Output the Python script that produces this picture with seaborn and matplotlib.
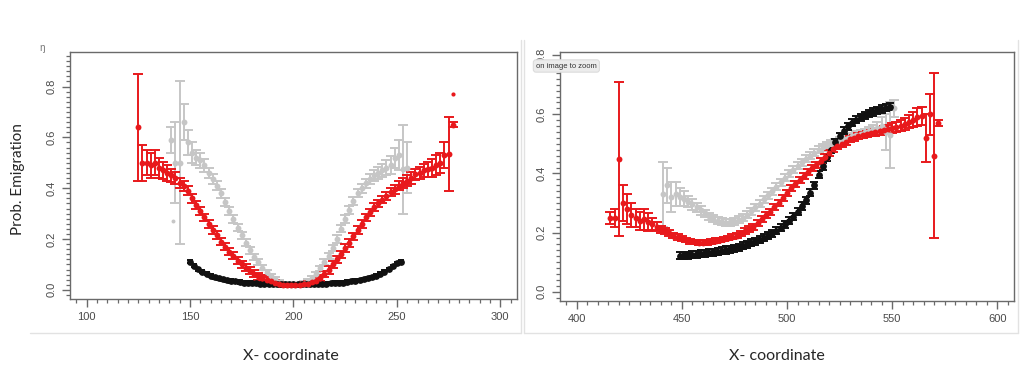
import matplotlib.pyplot as plt
import numpy as np
import seaborn as sns
from matplotlib.lines import Line2D
from matplotlib.ticker import MultipleLocator

# ---- left panel data (x 100-300) ----
left_red_x = np.arange(125, 279, 2)
left_red_y = [0.64, 0.50, 0.50, 0.49, 0.50, 0.48, 0.47, 0.46, 0.45, 0.44,
              0.42, 0.41, 0.39, 0.36, 0.335, 0.31, 0.285, 0.26, 0.235, 0.215,
              0.19, 0.17, 0.15, 0.135, 0.115, 0.10, 0.087, 0.075, 0.064, 0.054,
              0.046, 0.039, 0.033, 0.028, 0.024, 0.021, 0.02, 0.019, 0.019, 0.02,
              0.022, 0.025, 0.03, 0.036, 0.048, 0.062, 0.078, 0.10, 0.12, 0.14,
              0.165, 0.185, 0.21, 0.235, 0.26, 0.285, 0.305, 0.325, 0.34, 0.355,
              0.37, 0.385, 0.395, 0.41, 0.42, 0.43, 0.44, 0.455, 0.46, 0.47,
              0.475, 0.48, 0.49, 0.50, 0.53, 0.535, 0.65]
left_red_err = [0.21, 0.07, 0.05, 0.05, 0.05, 0.04, 0.035, 0.03, 0.025, 0.025,
                0.02, 0.02, 0.018, 0.018, 0.016, 0.016, 0.015, 0.015, 0.015, 0.015,
                0.014, 0.014, 0.014, 0.014, 0.014, 0.014, 0.014, 0.014, 0.014, 0.014,
                0.012, 0.012, 0.01, 0.01, 0.008, 0.008, 0.006, 0.006, 0.006, 0.006,
                0.008, 0.008, 0.01, 0.01, 0.012, 0.012, 0.014, 0.014, 0.014, 0.014,
                0.015, 0.015, 0.015, 0.015, 0.015, 0.015, 0.015, 0.015, 0.015, 0.015,
                0.016, 0.016, 0.018, 0.018, 0.02, 0.02, 0.022, 0.022, 0.025, 0.025,
                0.03, 0.035, 0.04, 0.04, 0.05, 0.145, 0.01]
left_red_extra_x = [277]
left_red_extra_y = [0.77]

left_gray_x = np.arange(141, 257, 2)
left_gray_y = [0.59, 0.50, 0.50, 0.66, 0.58, 0.54, 0.52, 0.51, 0.49, 0.46,
               0.435, 0.41, 0.38, 0.345, 0.31, 0.28, 0.245, 0.215, 0.185, 0.155,
               0.13, 0.108, 0.088, 0.07, 0.055, 0.043, 0.032, 0.025, 0.021, 0.019,
               0.019, 0.022, 0.028, 0.036, 0.048, 0.062, 0.085, 0.11, 0.135, 0.165,
               0.20, 0.24, 0.28, 0.315, 0.35, 0.38, 0.40, 0.42, 0.435, 0.45,
               0.46, 0.47, 0.48, 0.49, 0.52, 0.53, 0.475, 0.48]
left_gray_err = [0.05, 0.16, 0.32, 0.07, 0.05, 0.04, 0.03, 0.03, 0.025, 0.02,
                 0.02, 0.018, 0.018, 0.016, 0.016, 0.015, 0.015, 0.014, 0.014, 0.013,
                 0.012, 0.012, 0.01, 0.01, 0.008, 0.008, 0.007, 0.006, 0.006, 0.006,
                 0.006, 0.006, 0.007, 0.008, 0.008, 0.01, 0.01, 0.012, 0.012, 0.013,
                 0.014, 0.014, 0.015, 0.015, 0.016, 0.016, 0.018, 0.018, 0.02, 0.02,
                 0.022, 0.025, 0.03, 0.035, 0.04, 0.06, 0.175, 0.1]
left_gray_extra_x = [142]
left_gray_extra_y = [0.27]

left_black_x = np.arange(150, 254, 2)
left_black_y = [0.11, 0.095, 0.082, 0.072, 0.063, 0.056, 0.05, 0.045, 0.041, 0.038,
                0.035, 0.033, 0.031, 0.029, 0.028, 0.027, 0.026, 0.025, 0.024, 0.024,
                0.023, 0.023, 0.022, 0.022, 0.022, 0.022, 0.022, 0.022, 0.022, 0.023,
                0.023, 0.024, 0.024, 0.025, 0.026, 0.027, 0.028, 0.029, 0.031, 0.033,
                0.035, 0.038, 0.041, 0.045, 0.05, 0.056, 0.063, 0.072, 0.082, 0.093,
                0.105, 0.11]
left_black_err = 0.006

# ---- right panel data (x 400-600) ----
right_red_x = np.arange(416, 574, 2)
right_red_y = [0.25, 0.25, 0.45, 0.30, 0.28, 0.26, 0.25, 0.24, 0.245, 0.235,
               0.23, 0.22, 0.21, 0.205, 0.20, 0.19, 0.185, 0.18, 0.175, 0.17,
               0.168, 0.166, 0.166, 0.167, 0.17, 0.172, 0.175, 0.178, 0.182, 0.186,
               0.19, 0.197, 0.205, 0.212, 0.22, 0.232, 0.245, 0.258, 0.27, 0.285,
               0.30, 0.317, 0.334, 0.35, 0.364, 0.378, 0.39, 0.405, 0.418, 0.43,
               0.443, 0.457, 0.47, 0.482, 0.492, 0.50, 0.507, 0.515, 0.52, 0.526,
               0.53, 0.533, 0.537, 0.54, 0.543, 0.546, 0.55, 0.553, 0.557, 0.562,
               0.568, 0.575, 0.582, 0.59, 0.595, 0.52, 0.60, 0.46, 0.57]
right_red_err = [0.02, 0.03, 0.26, 0.06, 0.05, 0.04, 0.03, 0.03, 0.035, 0.03,
                 0.02, 0.015, 0.012, 0.01, 0.01, 0.01, 0.009, 0.009, 0.008, 0.008,
                 0.008, 0.008, 0.008, 0.008, 0.008, 0.008, 0.008, 0.008, 0.008, 0.008,
                 0.008, 0.008, 0.009, 0.009, 0.01, 0.01, 0.01, 0.01, 0.01, 0.01,
                 0.01, 0.01, 0.01, 0.01, 0.01, 0.01, 0.01, 0.01, 0.01, 0.01,
                 0.01, 0.01, 0.01, 0.01, 0.01, 0.01, 0.01, 0.01, 0.01, 0.01,
                 0.01, 0.01, 0.01, 0.012, 0.012, 0.014, 0.015, 0.016, 0.018, 0.02,
                 0.02, 0.022, 0.025, 0.03, 0.03, 0.08, 0.07, 0.28, 0.01]

right_gray_x = np.arange(441, 553, 2)
right_gray_y = [0.33, 0.36, 0.32, 0.33, 0.32, 0.315, 0.305, 0.295, 0.285, 0.275,
                0.265, 0.255, 0.247, 0.24, 0.236, 0.234, 0.235, 0.238, 0.243, 0.25,
                0.26, 0.272, 0.285, 0.298, 0.312, 0.326, 0.34, 0.355, 0.37, 0.385,
                0.40, 0.413, 0.426, 0.438, 0.45, 0.46, 0.47, 0.48, 0.488, 0.495,
                0.50, 0.505, 0.51, 0.515, 0.52, 0.525, 0.53, 0.535, 0.54, 0.545,
                0.55, 0.555, 0.56, 0.54, 0.53, 0.62]
right_gray_err = [0.11, 0.06, 0.05, 0.04, 0.03, 0.025, 0.02, 0.018, 0.016, 0.014,
                  0.012, 0.012, 0.012, 0.012, 0.012, 0.012, 0.012, 0.012, 0.012, 0.012,
                  0.012, 0.012, 0.012, 0.012, 0.012, 0.012, 0.012, 0.012, 0.012, 0.012,
                  0.012, 0.012, 0.012, 0.012, 0.012, 0.012, 0.012, 0.012, 0.012, 0.012,
                  0.012, 0.012, 0.012, 0.012, 0.012, 0.012, 0.012, 0.012, 0.012, 0.012,
                  0.015, 0.02, 0.03, 0.06, 0.11, 0.03]

right_black_x = np.arange(449, 551, 2)
right_black_y = [0.122, 0.123, 0.124, 0.125, 0.127, 0.128, 0.13, 0.132, 0.134, 0.136,
                 0.138, 0.141, 0.144, 0.147, 0.151, 0.155, 0.16, 0.165, 0.17, 0.176,
                 0.183, 0.19, 0.198, 0.207, 0.217, 0.228, 0.24, 0.254, 0.27, 0.29,
                 0.31, 0.335, 0.36, 0.395, 0.425, 0.455, 0.48, 0.505, 0.525, 0.545,
                 0.56, 0.572, 0.582, 0.59, 0.597, 0.603, 0.608, 0.613, 0.618, 0.623,
                 0.625]
right_black_err = 0.012

RED = '#e8191c'
GRAY = '#c6c6c6'
BLACK = '#111111'
AXIS = '#6a6a6a'


def draw_series(ax, x, y, err, color, cap=3.5, size=18, lw=1.4):
    ax.errorbar(x, y, yerr=err, fmt='none', ecolor=color, elinewidth=lw,
                capsize=cap, capthick=lw, zorder=2)
    sns.scatterplot(x=x, y=y, ax=ax, color=color, s=size, linewidth=0,
                    legend=False, zorder=3)


def style_axes(ax, xlim, ylim, xmajor):
    ax.set_xlim(*xlim)
    ax.set_ylim(*ylim)
    ax.xaxis.set_major_locator(MultipleLocator(xmajor))
    ax.xaxis.set_minor_locator(MultipleLocator(5))
    ax.yaxis.set_major_locator(MultipleLocator(0.2))
    ax.yaxis.set_minor_locator(MultipleLocator(0.02))
    for s in ax.spines.values():
        s.set_visible(True)
        s.set_color(AXIS)
        s.set_linewidth(1.0)
    ax.tick_params(which='major', direction='out', length=6, width=1,
                   color=AXIS, labelcolor='#4a4a4a', labelsize=8)
    ax.tick_params(which='minor', direction='out', length=3, width=0.9,
                   color=AXIS)
    ax.tick_params(axis='y', labelrotation=90)
    for lab in ax.get_yticklabels():
        lab.set_va('center')
    ax.set_xlabel('')
    ax.set_ylabel('')


sns.set_style("ticks")
plt.rcParams['font.family'] = ['Liberation Sans', 'DejaVu Sans']

fig = plt.figure(figsize=(10.32, 3.71), dpi=100)
ax1 = fig.add_axes([0.0678, 0.194, 0.433, 0.666])
ax2 = fig.add_axes([0.5426, 0.189, 0.440, 0.671])

# left panel
draw_series(ax1, left_gray_x, left_gray_y, left_gray_err, GRAY)
sns.scatterplot(x=left_gray_extra_x, y=left_gray_extra_y, ax=ax1, color=GRAY,
                s=8, linewidth=0, legend=False)
draw_series(ax1, left_black_x, left_black_y, left_black_err, BLACK, cap=2.4, size=24)
draw_series(ax1, left_red_x, left_red_y, left_red_err, RED)
sns.scatterplot(x=left_red_extra_x, y=left_red_extra_y, ax=ax1, color=RED,
                s=9, linewidth=0, legend=False)
style_axes(ax1, (92, 308), (-0.036, 0.936), 50)

# right panel
draw_series(ax2, right_gray_x, right_gray_y, right_gray_err, GRAY)
draw_series(ax2, right_black_x, right_black_y, right_black_err, BLACK, cap=2.8, size=24)
draw_series(ax2, right_red_x, right_red_y, right_red_err, RED)
style_axes(ax2, (392, 608), (-0.031, 0.811), 50)

# labels
fig.text(0.017, 1 - 179 / 371, 'Prob. Emigration', rotation=90, ha='center',
         va='center', fontsize=11, family=['Lato', 'DejaVu Sans'])
fig.text(291 / 1032, 1 - 356 / 371, 'X- coordinate', ha='center', va='center',
         fontsize=11.5, family=['Lato', 'DejaVu Sans'])
fig.text(777 / 1032, 1 - 356 / 371, 'X- coordinate', ha='center', va='center',
         fontsize=11.5, family=['Lato', 'DejaVu Sans'])

# screenshot leftovers
fig.text(42 / 1032, 1 - 48 / 371, '\u014b', ha='center', va='center',
         fontsize=7, color='#777777')
fig.text(536 / 1032, 1 - 66 / 371, 'on image to zoom', ha='left', va='center',
         fontsize=5.5, color='#333333', zorder=10,
         bbox=dict(boxstyle='round,pad=0.35', fc='#ececec', ec='#dcdcdc', lw=0.8))
edge = '#e2e2e2'
fig.add_artist(Line2D([521 / 1032, 521 / 1032], [1 - 40 / 371, 1 - 333 / 371],
                      color=edge, lw=1))
fig.add_artist(Line2D([30 / 1032, 521 / 1032], [1 - 333 / 371, 1 - 333 / 371],
                      color=edge, lw=1))
fig.add_artist(Line2D([524 / 1032, 524 / 1032], [1 - 40 / 371, 1 - 333 / 371],
                      color=edge, lw=1))
fig.add_artist(Line2D([524 / 1032, 1018 / 1032], [1 - 333 / 371, 1 - 333 / 371],
                      color=edge, lw=1))
fig.add_artist(Line2D([1018 / 1032, 1018 / 1032], [1 - 40 / 371, 1 - 333 / 371],
                      color=edge, lw=1))

fig.savefig('out.png', dpi=100)
